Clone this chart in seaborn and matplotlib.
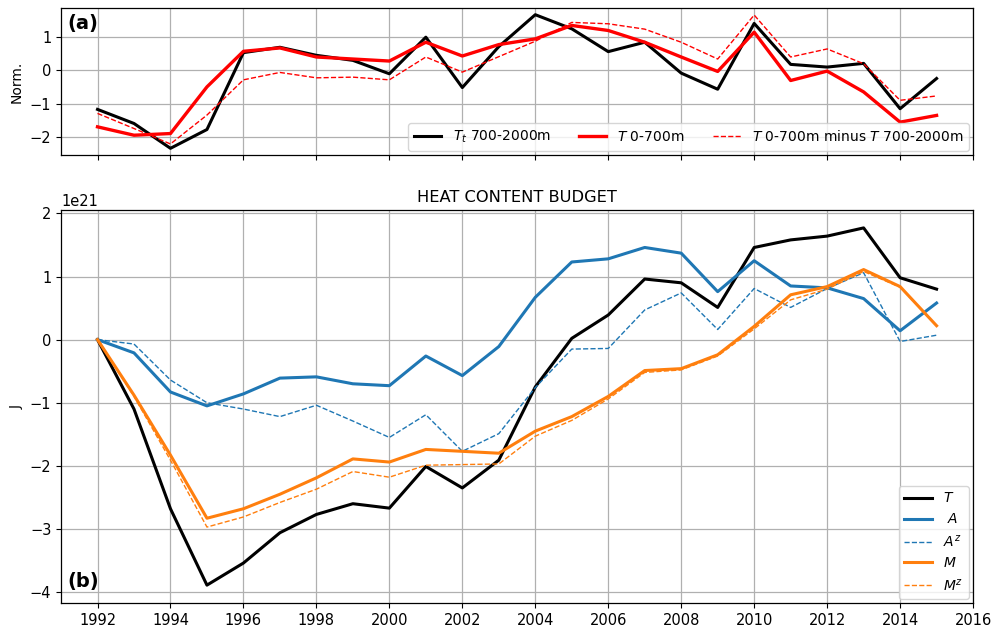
import numpy as np
import pandas as pd
import matplotlib
matplotlib.use("Agg")
import matplotlib.pyplot as plt
import seaborn as sns

years = list(range(1992, 2016))

# Panel (a): normalized series
tt_700_2000 = [-1.17, -1.59, -2.33, -1.77, 0.52, 0.68, 0.44, 0.29, -0.11, 0.98, -0.52, 0.70,
               1.65, 1.23, 0.55, 0.83, -0.09, -0.57, 1.39, 0.17, 0.09, 0.20, -1.15, -0.25]
t_0_700 = [-1.69, -1.94, -1.89, -0.50, 0.56, 0.66, 0.39, 0.33, 0.27, 0.83, 0.42, 0.76,
           0.93, 1.33, 1.18, 0.83, 0.39, -0.04, 1.13, -0.31, -0.03, -0.65, -1.55, -1.35]
t_diff = [-1.29, -1.74, -2.20, -1.34, -0.29, -0.07, -0.23, -0.21, -0.29, 0.39, -0.06, 0.40,
          0.86, 1.42, 1.38, 1.22, 0.83, 0.33, 1.64, 0.39, 0.63, 0.19, -0.90, -0.77]

# Panel (b): heat content budget (units of 1e21 J)
T = [0.0, -1.10, -2.68, -3.89, -3.54, -3.06, -2.77, -2.60, -2.67, -2.01, -2.35, -1.91,
     -0.75, 0.02, 0.39, 0.96, 0.90, 0.51, 1.46, 1.58, 1.64, 1.77, 0.98, 0.80]
A = [0.0, -0.21, -0.83, -1.05, -0.86, -0.61, -0.59, -0.70, -0.73, -0.26, -0.57, -0.11,
     0.67, 1.23, 1.28, 1.46, 1.37, 0.76, 1.25, 0.85, 0.82, 0.65, 0.14, 0.58]
Az = [0.0, -0.07, -0.64, -1.00, -1.10, -1.22, -1.04, -1.29, -1.55, -1.19, -1.77, -1.49,
      -0.76, -0.15, -0.14, 0.47, 0.74, 0.16, 0.81, 0.51, 0.81, 1.06, -0.03, 0.07]
M = [0.0, -0.88, -1.83, -2.83, -2.68, -2.45, -2.19, -1.89, -1.94, -1.74, -1.77, -1.80,
     -1.45, -1.22, -0.90, -0.49, -0.46, -0.24, 0.21, 0.71, 0.84, 1.11, 0.84, 0.22]
Mz = [0.0, -0.90, -1.91, -2.97, -2.81, -2.58, -2.37, -2.09, -2.18, -1.99, -1.98, -1.97,
      -1.53, -1.28, -0.94, -0.52, -0.48, -0.26, 0.17, 0.63, 0.80, 1.08, 0.83, 0.22]
scale = 1e21

xticks = list(range(1992, 2017, 2))

plt.rcParams.update({
    "font.family": ["DejaVu Sans"],
    "font.size": 10.5,
    "axes.labelsize": 10,
    "axes.edgecolor": "black",
    "axes.linewidth": 0.9,
    "grid.color": "#b0b0b0",
    "grid.linewidth": 0.9,
    "legend.fontsize": 10,
})

fig = plt.figure(figsize=(10.07, 6.27), dpi=100)
ax1 = fig.add_axes([0.0606, 0.7528, 0.9057, 0.2344])
ax2 = fig.add_axes([0.0606, 0.0383, 0.9057, 0.6267])

# Panel (a)
sns.lineplot(x=years, y=tt_700_2000, ax=ax1, color="black", lw=2.2,
             label=r"$T_t$ 700-2000m")
sns.lineplot(x=years, y=t_0_700, ax=ax1, color="red", lw=2.4,
             label=r"$T$ 0-700m")
sns.lineplot(x=years, y=t_diff, ax=ax1, color="red", lw=1, linestyle="--",
             label=r"$T$ 0-700m minus $T$ 700-2000m")
ax1.set_xlim(1991, 2016)
ax1.set_xticks(xticks)
ax1.set_xticklabels([])
ax1.set_yticks([-2, -1, 0, 1])
ax1.set_ylabel("Norm.")
ax1.grid(True)
ax1.set_axisbelow(True)
ax1.legend(loc="lower right", ncol=3, borderaxespad=0.3)
ax1.text(0.007, 0.96, "(a)", transform=ax1.transAxes, fontsize=14,
         fontweight="bold", va="top", ha="left")

# Panel (b)
s = np.array
sns.lineplot(x=years, y=s(T) * scale, ax=ax2, color="black", lw=2.2, label=r"$T$")
sns.lineplot(x=years, y=s(A) * scale, ax=ax2, color="#1f77b4", lw=2.2, label=r" $A$")
sns.lineplot(x=years, y=s(Az) * scale, ax=ax2, color="#1f77b4", lw=1,
             linestyle="--", label=r"$A^z$")
sns.lineplot(x=years, y=s(M) * scale, ax=ax2, color="#ff7f0e", lw=2.2, label=r"$M$")
sns.lineplot(x=years, y=s(Mz) * scale, ax=ax2, color="#ff7f0e", lw=1,
             linestyle="--", label=r"$M^z$")
ax2.set_xlim(1991, 2016)
ax2.set_xticks(xticks)
ax2.set_ylabel("J")
ax2.set_title("HEAT CONTENT BUDGET", fontsize=11.7)
ax2.grid(True)
ax2.set_axisbelow(True)
ax2.legend(loc="lower right", borderaxespad=0.3)
ax2.text(0.007, 0.03, "(b)", transform=ax2.transAxes, fontsize=14,
         fontweight="bold", va="bottom", ha="left")

fig.savefig("out.png", dpi=100)
